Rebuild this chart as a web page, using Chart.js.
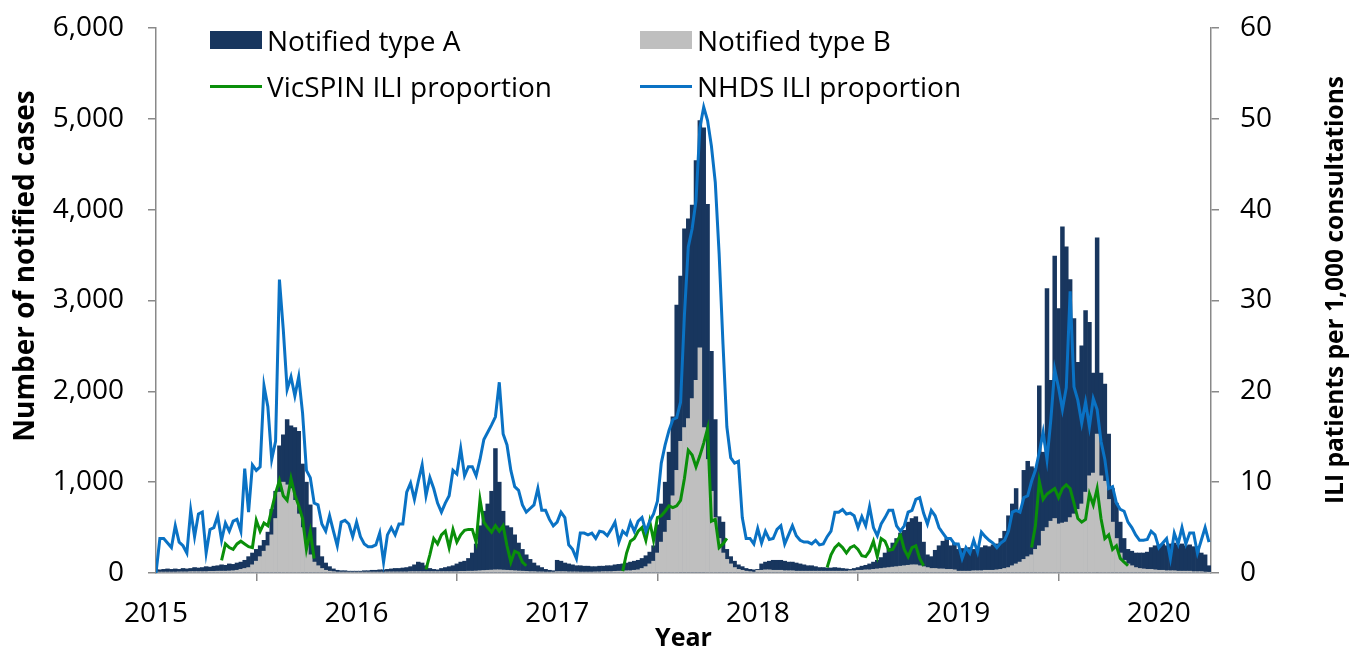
<!DOCTYPE html>
<html>
<head>
<meta charset="utf-8">
<script src="https://cdn.jsdelivr.net/npm/chart.js@4.4.1/dist/chart.umd.min.js"></script>
<style>
  html, body { margin: 0; padding: 0; background: #fff; }
  #wrap { position: relative; width: 1353px; height: 650px; }
  #c { position: absolute; left: 0; top: 0; }
  .leg { position: absolute; display: flex; align-items: center; height: 30px;
         font-family: "Open Sans", sans-serif; font-size: 28px; color: #000; white-space: nowrap; }
  .leg .sw { display: inline-block; width: 52px; margin-right: 5px; }
</style>
</head>
<body>
<div id="wrap">
  <canvas id="c" width="1353" height="650"></canvas>
</div>
<script>
// ---------------- DATA ----------------
const firstYear = 2015;
const yearTicks = [2015, 2016, 2017, 2018, 2019, 2020];
const weeksPerYear = 52;

// Weekly notified cases, influenza type A (2015 wk1 .. 2020 wk14)
const typeA = [
  // 2015
  40, 35, 40, 45, 40, 45, 40, 50, 45, 50, 60, 55, 60,
  70, 65, 75, 80, 90, 85, 100, 95, 110, 120, 140, 180, 220,
  260, 300, 360, 450, 700, 900, 1400, 1520, 1690, 1620, 1600, 1560, 1200,
  1000, 750, 500, 300, 180, 110, 70, 45, 30, 25, 25, 20, 20,
  // 2016
  20, 20, 25, 25, 30, 30, 35, 35, 40, 45, 50, 50, 55,
  60, 70, 90, 120, 110, 80, 50, 40, 35, 50, 60, 70, 80,
  100, 120, 130, 160, 220, 320, 520, 680, 760, 900, 1370, 1000, 680,
  520, 500, 420, 330, 260, 200, 150, 110, 80, 60, 40, 30, 25,
  // 2017
  140, 130, 110, 100, 90, 80, 80, 75, 75, 70, 70, 75, 75,
  80, 80, 90, 95, 100, 110, 120, 130, 140, 160, 190, 230, 300,
  530, 760, 1000, 1330, 1720, 2950, 3270, 3790, 3900, 4050, 4540, 4980, 4900,
  4060, 2440, 1690, 620, 560, 260, 180, 130, 90, 70, 50, 40, 35,
  // 2018
  40, 100, 120, 130, 140, 140, 140, 130, 120, 120, 110, 100, 90,
  80, 80, 70, 60, 60, 55, 55, 60, 55, 50, 45, 40, 50,
  60, 75, 85, 100, 120, 140, 170, 220, 270, 330, 380, 440, 470,
  560, 600, 620, 560, 340, 200, 180, 250, 300, 350, 380, 300, 330,
  // 2019
  260, 270, 250, 280, 260, 290, 280, 300, 290, 310, 320, 380, 460,
  630, 760, 930, 690, 1130, 1230, 1170, 1150, 2060, 1330, 3130, 2120, 3490,
  2910, 3810, 3590, 3230, 2800, 2320, 2500, 2890, 2760, 2200, 3690, 2200, 2080,
  1530, 930, 770, 560, 380, 260, 240, 220, 220, 220, 230, 280, 300,
  // 2020
  310, 320, 300, 320, 330, 310, 320, 300, 310, 290, 290, 220, 200, 80
];

// Weekly notified cases, influenza type B
const typeB = [
  // 2015
  10, 10, 10, 10, 10, 10, 12, 12, 12, 15, 15, 15, 15,
  15, 18, 18, 20, 20, 20, 22, 25, 30, 40, 50, 60, 90,
  130, 180, 240, 300, 420, 600, 890, 1000, 970, 930, 800, 650, 500,
  320, 200, 120, 80, 50, 30, 20, 15, 10, 10, 10, 10, 10,
  // 2016
  10, 10, 10, 10, 10, 10, 10, 10, 12, 12, 12, 12, 12,
  12, 15, 15, 15, 15, 15, 15, 15, 15, 15, 15, 15, 15,
  15, 18, 18, 20, 20, 22, 25, 28, 30, 32, 35, 35, 32,
  30, 28, 25, 22, 20, 18, 15, 15, 12, 12, 10, 10, 10,
  // 2017
  15, 15, 15, 12, 12, 12, 10, 10, 10, 10, 12, 12, 15,
  15, 15, 18, 20, 20, 25, 25, 30, 35, 50, 70, 100, 130,
  220, 340, 450, 580, 850, 1130, 1450, 1600, 1700, 1920, 2120, 2480, 1600,
  1250, 900, 610, 380, 220, 150, 100, 60, 40, 30, 20, 15, 10,
  // 2018
  30, 30, 35, 35, 30, 30, 30, 25, 25, 25, 20, 20, 20,
  20, 20, 20, 20, 20, 20, 20, 20, 20, 20, 20, 25, 25,
  30, 30, 35, 35, 40, 45, 50, 55, 60, 65, 70, 75, 80,
  85, 90, 90, 80, 70, 60, 50, 50, 45, 45, 40, 40, 35,
  // 2019
  20, 20, 20, 20, 25, 25, 25, 30, 30, 30, 35, 40, 50,
  60, 80, 100, 120, 150, 180, 200, 260, 300, 460, 500, 570, 600,
  540, 550, 560, 610, 650, 700, 760, 890, 1070, 1100, 1530, 1070, 1010,
  810, 560, 380, 220, 140, 100, 80, 60, 50, 45, 40, 40, 35,
  // 2020
  30, 30, 25, 25, 25, 20, 20, 20, 20, 15, 15, 15, 10, 5
];

// NHDS ILI patients per 1,000 consultations (weekly)
const nhds = [
  // 2015
  0, 3.8, 3.8, 3.3, 2.8, 5.2, 3.4, 3.0, 2.2, 6.9, 4.0, 6.5, 6.7,
  2.2, 4.8, 5.0, 6.3, 3.6, 5.5, 4.6, 5.7, 5.9, 4.6, 11.5, 6.7, 11.9,
  11.3, 11.7, 20.6, 18.3, 12.5, 14.5, 32.3, 26.8, 20.2, 21.6, 19.5, 21.6, 17.6,
  11.3, 10.5, 7.7, 7.5, 5.4, 4.6, 6.3, 4.6, 3.0, 5.6, 5.8, 5.4, 4.0,
  // 2016
  5.6, 4.0, 3.2, 2.9, 2.9, 3.1, 4.4, 1.2, 4.2, 5.0, 4.2, 5.4, 5.4,
  8.9, 9.9, 8.1, 10.1, 11.9, 8.5, 10.5, 9.3, 7.7, 6.7, 7.7, 8.5, 11.3,
  10.9, 13.7, 10.7, 11.7, 11.7, 10.7, 12.5, 14.7, 15.5, 16.3, 17.2, 21.0, 15.3,
  14.1, 11.3, 9.5, 9.1, 7.5, 6.7, 7.1, 7.5, 9.3, 6.9, 6.9, 5.9, 5.2,
  // 2017
  5.6, 6.7, 6.1, 3.1, 2.6, 1.6, 4.4, 4.4, 4.2, 4.4, 3.8, 4.6, 4.5,
  4.1, 4.8, 5.6, 3.4, 4.6, 4.2, 5.6, 4.6, 5.7, 6.1, 4.6, 5.7, 6.5,
  7.9, 12.1, 14.1, 15.7, 16.9, 17.1, 18.8, 28.4, 35.9, 37.9, 41.0, 49.0, 51.3,
  49.8, 47.0, 43.0, 35.1, 25.2, 16.1, 12.7, 12.1, 12.3, 6.1, 3.8, 3.8, 3.2,
  // 2018
  4.9, 3.3, 4.6, 3.7, 3.8, 4.8, 5.2, 3.2, 4.2, 5.2, 4.1, 3.6, 3.4,
  3.4, 3.2, 3.6, 3.1, 3.2, 4.0, 4.6, 6.7, 6.7, 7.0, 6.5, 6.6, 6.3,
  5.0, 6.2, 5.2, 7.3, 5.0, 4.1, 5.4, 6.1, 6.9, 6.9, 5.2, 4.6, 5.2,
  6.7, 6.9, 8.1, 8.3, 6.6, 5.4, 6.9, 6.3, 5.0, 4.4, 3.8, 3.8, 3.2,
  // 2019
  3.2, 1.6, 2.8, 2.2, 3.6, 2.3, 4.5, 4.0, 3.6, 3.3, 2.8, 3.3, 3.6,
  4.6, 6.7, 6.9, 6.7, 8.3, 8.5, 10.1, 11.3, 13.3, 15.5, 12.5, 16.9, 22.4,
  20.4, 18.0, 20.4, 31.0, 20.5, 19.0, 16.5, 18.8, 16.1, 19.2, 18.0, 14.5, 12.5,
  9.3, 9.5, 7.7, 7.0, 6.8, 5.6, 5.0, 4.2, 3.6, 3.6, 3.7, 4.6, 4.2,
  // 2020
  2.8, 3.3, 3.8, 1.6, 4.4, 3.2, 5.0, 3.2, 4.4, 4.4, 2.2, 3.6, 5.0, 3.4
];

// VicSPIN ILI proportion, surveillance season only (values start at the given week index)
const vicspinYears = [2015, 2016, 2017, 2018, 2019];
const vicspinStartWeek = [17, 18, 17, 18, 19];
const vicspin2015 = [1.4, 3.2, 2.8, 2.6, 3.2, 3.5, 3.2, 2.9, 2.8, 5.8, 4.6, 5.5, 5.2, 7.0, 8.8, 10.2, 8.5, 8.0, 10.4, 8.6, 7.4, 6.0, 2.6, 4.6, 1.6];
const vicspin2016 = [0.4, 2.0, 3.8, 3.2, 4.2, 4.6, 2.8, 4.8, 3.4, 4.2, 4.7, 4.8, 4.8, 3.4, 8.1, 5.6, 5.0, 4.5, 5.2, 4.6, 5.2, 3.0, 1.2, 2.4, 2.2, 1.2, 0.8];
const vicspin2017 = [0.2, 2.2, 3.5, 3.8, 4.6, 5.0, 3.6, 5.7, 3.6, 6.1, 6.3, 6.8, 7.4, 7.2, 7.4, 8.0, 10.4, 13.5, 13.0, 11.7, 12.9, 14.3, 15.9, 5.7, 5.9, 2.8, 3.2, 3.8];
const vicspin2018 = [0.6, 2.0, 2.8, 3.2, 2.8, 2.2, 2.8, 3.0, 2.6, 1.9, 1.8, 2.4, 3.5, 1.8, 3.8, 3.5, 2.5, 2.6, 3.4, 4.2, 2.6, 1.8, 2.8, 3.0, 1.6, 0.8];
const vicspin2019 = [2.8, 5.2, 10.1, 8.1, 8.7, 9.0, 9.3, 8.3, 9.3, 9.7, 9.3, 7.7, 6.0, 5.6, 5.9, 8.7, 7.5, 9.3, 6.0, 3.8, 4.2, 2.6, 3.0, 1.6, 1.2, 0.8];

const seriesNames = ['Notified type A', 'Notified type B', 'VicSPIN ILI proportion', 'NHDS ILI proportion'];
const seriesColors = ['#18365e', '#bfbfbf', '#0a8f0a', '#0a72c4'];
const leftTitle = 'Number of notified cases';
const rightTitle = 'ILI patients per 1,000 consultations';
const xTitle = 'Year';

// ---------------- BUILD ----------------
const weekX = i => firstYear + Math.floor(i / weeksPerYear) + (i % weeksPerYear) / weeksPerYear;
const toPts = arr => arr.map((v, i) => ({ x: weekX(i), y: v }));

const vicSeasons = [vicspin2015, vicspin2016, vicspin2017, vicspin2018, vicspin2019];
const vicPts = [];
vicSeasons.forEach((vals, s) => {
  vals.forEach((v, k) => vicPts.push({ x: vicspinYears[s] + (vicspinStartWeek[s] + k) / weeksPerYear, y: v }));
  vicPts.push({ x: vicspinYears[s] + (vicspinStartWeek[s] + vals.length) / weeksPerYear, y: null });
});

// legend (HTML)
const wrap = document.getElementById('wrap');
const legPos = [[210, 25], [640, 25], [210, 71], [640, 71]];
seriesNames.forEach((name, i) => {
  const d = document.createElement('div');
  d.className = 'leg';
  d.style.left = legPos[i][0] + 'px';
  d.style.top = legPos[i][1] + 'px';
  const sw = document.createElement('span');
  sw.className = 'sw';
  sw.style.height = i < 2 ? '18px' : '3px';
  sw.style.background = seriesColors[i];
  d.appendChild(sw);
  d.appendChild(document.createTextNode(name));
  wrap.appendChild(d);
});

const FONT = '"Open Sans", sans-serif';
const axisGray = '#898989';

const sideTitlesPlugin = {
  id: 'sideTitles',
  afterDraw(chart) {
    const ctx = chart.ctx;
    const drawV = (text, x, y, size) => {
      ctx.save();
      ctx.translate(x, y);
      ctx.rotate(-Math.PI / 2);
      ctx.font = 'bold ' + size + 'px ' + FONT;
      ctx.fillStyle = '#000';
      ctx.textAlign = 'center';
      ctx.textBaseline = 'middle';
      ctx.fillText(text, 0, 0);
      ctx.restore();
    };
    drawV(leftTitle, 26, 266, 28);
    drawV(rightTitle, 1336, 290, 24.5);
  }
};

function draw() {
  new Chart(document.getElementById('c'), {
    data: {
      datasets: [
        { type: 'line', label: seriesNames[3], data: toPts(nhds), yAxisID: 'y1',
          borderColor: seriesColors[3], borderWidth: 3, pointRadius: 0, tension: 0, order: 0 },
        { type: 'line', label: seriesNames[2], data: vicPts, yAxisID: 'y1', spanGaps: false,
          borderColor: seriesColors[2], borderWidth: 3, pointRadius: 0, tension: 0, order: 1 },
        { type: 'bar', label: seriesNames[1], data: toPts(typeB), yAxisID: 'y', grouped: false,
          backgroundColor: seriesColors[1], barPercentage: 1, categoryPercentage: 1, order: 2 },
        { type: 'bar', label: seriesNames[0], data: toPts(typeA), yAxisID: 'y', grouped: false,
          backgroundColor: seriesColors[0], barPercentage: 1, categoryPercentage: 1, order: 3 }
      ]
    },
    options: {
      responsive: false,
      animation: false,
      events: [],
      layout: { padding: { top: 28, left: 0, right: 0, bottom: 0 } },
      plugins: { legend: { display: false }, tooltip: { enabled: false } },
      scales: {
        x: {
          type: 'linear', min: 2015, max: 2020.26, offset: false,
          afterBuildTicks: s => { s.ticks = yearTicks.map(v => ({ value: v })); },
          afterFit: s => { s.height = 77; s.paddingLeft = 0; s.paddingRight = 0; },
          ticks: { font: { family: FONT, size: 28 }, color: '#000', padding: 16,
                   maxRotation: 0, autoSkip: false, callback: v => String(v) },
          grid: { drawOnChartArea: false, drawTicks: true, tickLength: 8, color: axisGray, lineWidth: 1.5 },
          border: { display: true, color: axisGray, width: 1.5 },
          title: { display: true, text: xTitle, color: '#000',
                   font: { family: FONT, size: 25, weight: 'bold' }, padding: { top: 0, bottom: -4 } }
        },
        y: {
          position: 'left', min: 0, max: 6000,
          afterFit: s => { s.width = 156; s.paddingTop = 0; s.paddingBottom = 0; },
          ticks: { stepSize: 1000, font: { family: FONT, size: 28 }, color: '#000', padding: 24,
                   callback: v => v.toLocaleString('en-US') },
          grid: { drawOnChartArea: false, drawTicks: true, tickLength: 8, color: axisGray, lineWidth: 1.5 },
          border: { display: true, color: axisGray, width: 1.5 }
        },
        y1: {
          position: 'right', min: 0, max: 60,
          afterFit: s => { s.width = 142; s.paddingTop = 0; s.paddingBottom = 0; },
          ticks: { stepSize: 10, font: { family: FONT, size: 28 }, color: '#000', padding: 21 },
          grid: { drawOnChartArea: false, drawTicks: true, tickLength: 8, color: axisGray, lineWidth: 1.5 },
          border: { display: true, color: axisGray, width: 1.5 }
        }
      }
    },
    plugins: [sideTitlesPlugin]
  });
}

Promise.all([
  document.fonts.load('28px "Open Sans"'),
  document.fonts.load('bold 28px "Open Sans"')
]).then(draw, draw);
</script>
</body>
</html>
